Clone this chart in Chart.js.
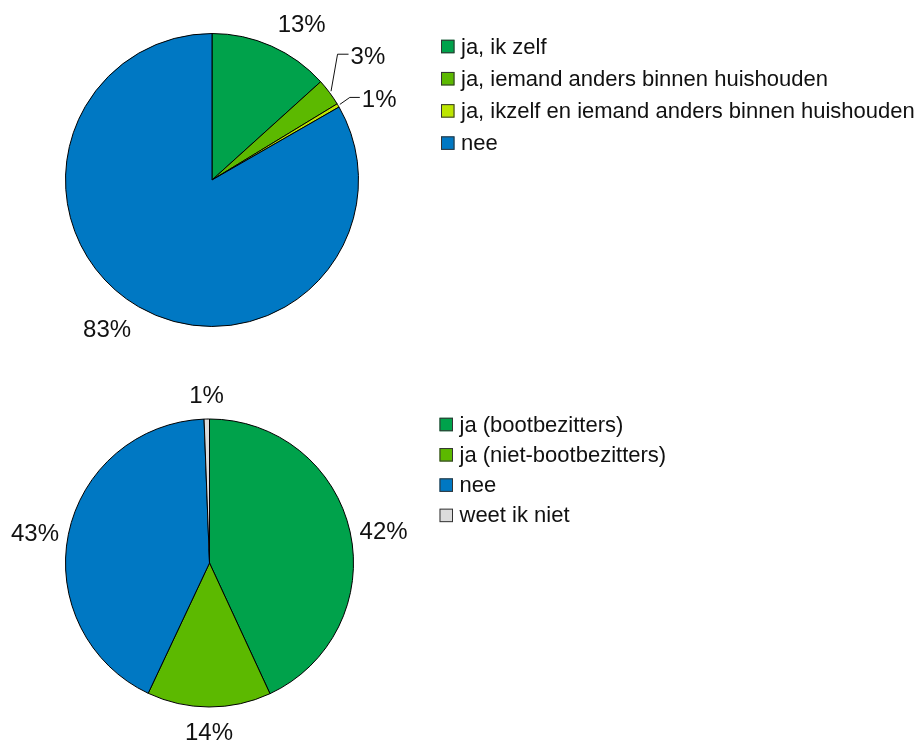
<!DOCTYPE html>
<html>
<head>
<meta charset="utf-8">
<script src="https://cdn.jsdelivr.net/npm/chart.js@4/dist/chart.umd.min.js"></script>
<style>
  html, body { margin: 0; padding: 0; background: #fff; }
  #wrap { position: relative; width: 916px; height: 741px; }
  canvas { position: absolute; left: 0; }
  #pie-top { top: 0; }
  #pie-bottom { top: 370px; }
</style>
</head>
<body>
<div id="wrap">
  <canvas id="pie-top" width="916" height="370"></canvas>
  <canvas id="pie-bottom" width="916" height="371"></canvas>
</div>
<script>
// Two survey pies, legend on the right of each.
const TOP_LABELS = [
  "ja, ik zelf",
  "ja, iemand anders binnen huishouden",
  "ja, ikzelf en iemand anders binnen huishouden",
  "nee",
];
const TOP_VALUES = [13.3, 3.0, 0.4, 83.3];
const TOP_PCT_TEXT = ["13%", "3%", "1%", "83%"];

const BOTTOM_LABELS = [
  "ja (bootbezitters)",
  "ja (niet-bootbezitters)",
  "nee",
  "weet ik niet",
];
const BOTTOM_VALUES = [43.1, 13.9, 42.4, 0.6];
const BOTTOM_PCT_TEXT = ["42%", "14%", "43%", "1%"];

const GREEN = "#00a24b";
const LIGHT_GREEN = "#5cb900";
const YELLOW_GREEN = "#bde600";
const BLUE = "#0078c3";
const GREY = "#dcdcdc";

const FONT = '"Liberation Sans", Arial, Helvetica, sans-serif';
const LABEL_SIZE = 24;
const LEGEND_SIZE = 22;

// Draws the percentage labels (optionally with a leader line) and the side legend.
const pieDecor = {
  id: "pieDecor",
  afterDraw(chart, args, opts) {
    const ctx = chart.ctx;
    const meta = chart.getDatasetMeta(0);
    const texts = opts.texts || [];
    ctx.save();
    ctx.fillStyle = "#111";
    ctx.strokeStyle = "#111";
    ctx.lineWidth = 1;
    ctx.font = `${LABEL_SIZE}px ${FONT}`;
    ctx.textBaseline = "alphabetic";
    const capH = LABEL_SIZE * 0.716;

    meta.data.forEach((arc, i) => {
      const { x, y, startAngle, endAngle, outerRadius } = arc.getProps(
        ["x", "y", "startAngle", "endAngle", "outerRadius"], true);
      const mid = (startAngle + endAngle) / 2;
      const ux = Math.cos(mid), uy = Math.sin(mid);
      const leader = opts.leaders && opts.leaders[i];
      if (leader) {
        const sx = x + (outerRadius + 2) * ux;
        const sy = y + (outerRadius + 2) * uy;
        const kx = sx + leader.knee[0], ky = sy + leader.knee[1];
        ctx.beginPath();
        ctx.moveTo(sx, sy);
        ctx.lineTo(kx, ky);
        ctx.lineTo(kx + leader.tail, ky);
        ctx.stroke();
        ctx.textAlign = "left";
        ctx.fillText(texts[i], kx + leader.tail + 2, ky + capH / 2 + 1);
        return;
      }
      const gap = 8 + 8 * Math.abs(uy);
      const ax = x + (outerRadius + gap) * ux;
      const ay = y + (outerRadius + gap) * uy;
      ctx.textAlign = ux > 0.25 ? "left" : ux < -0.25 ? "right" : "center";
      let by;
      if (uy < -0.25) by = ay;
      else if (uy > 0.25) by = ay + capH;
      else by = ay + capH / 2;
      ctx.fillText(texts[i], ax, by);
    });

    // legend
    const lg = opts.legend;
    const ds = chart.data.datasets[0];
    ctx.font = `${LEGEND_SIZE}px ${FONT}`;
    ctx.textAlign = "left";
    chart.data.labels.forEach((label, i) => {
      const cy = lg.y + i * lg.step;
      ctx.fillStyle = ds.backgroundColor[i];
      ctx.fillRect(lg.x, cy - lg.box / 2, lg.box, lg.box);
      ctx.strokeStyle = "#333";
      ctx.strokeRect(lg.x + 0.5, cy - lg.box / 2 + 0.5, lg.box - 1, lg.box - 1);
      ctx.fillStyle = "#111";
      ctx.fillText(label, lg.textX, cy + 7);
    });
    ctx.restore();
  },
};

function makePie(canvasId, labels, values, colors, radius, padding, decor) {
  return new Chart(document.getElementById(canvasId), {
    type: "pie",
    data: {
      labels,
      datasets: [{
        data: values,
        backgroundColor: colors,
        borderColor: "#000",
        borderWidth: 1,
        radius,
      }],
    },
    options: {
      responsive: false,
      animation: false,
      layout: { padding },
      plugins: {
        legend: { display: false },
        tooltip: { enabled: false },
        pieDecor: decor,
      },
    },
    plugins: [pieDecor],
  });
}

makePie("pie-top", TOP_LABELS, TOP_VALUES,
  [GREEN, LIGHT_GREEN, YELLOW_GREEN, BLUE], 146.5,
  { left: 0, top: 0, right: 492, bottom: 10 },
  {
    texts: TOP_PCT_TEXT,
    leaders: {
      1: { knee: [6.5, -37], tail: 11 },
      2: { knee: [10, -7], tail: 10 },
    },
    legend: { x: 441, y: 46.5, step: 32.2, box: 13.5, textX: 461 },
  });

makePie("pie-bottom", BOTTOM_LABELS, BOTTOM_VALUES,
  [GREEN, LIGHT_GREEN, BLUE, GREY], 144,
  { left: 0, top: 43, right: 497, bottom: 28 },
  {
    texts: BOTTOM_PCT_TEXT,
    legend: { x: 439.5, y: 54.5, step: 30.3, box: 13.5, textX: 459.5 },
  });
</script>
</body>
</html>
